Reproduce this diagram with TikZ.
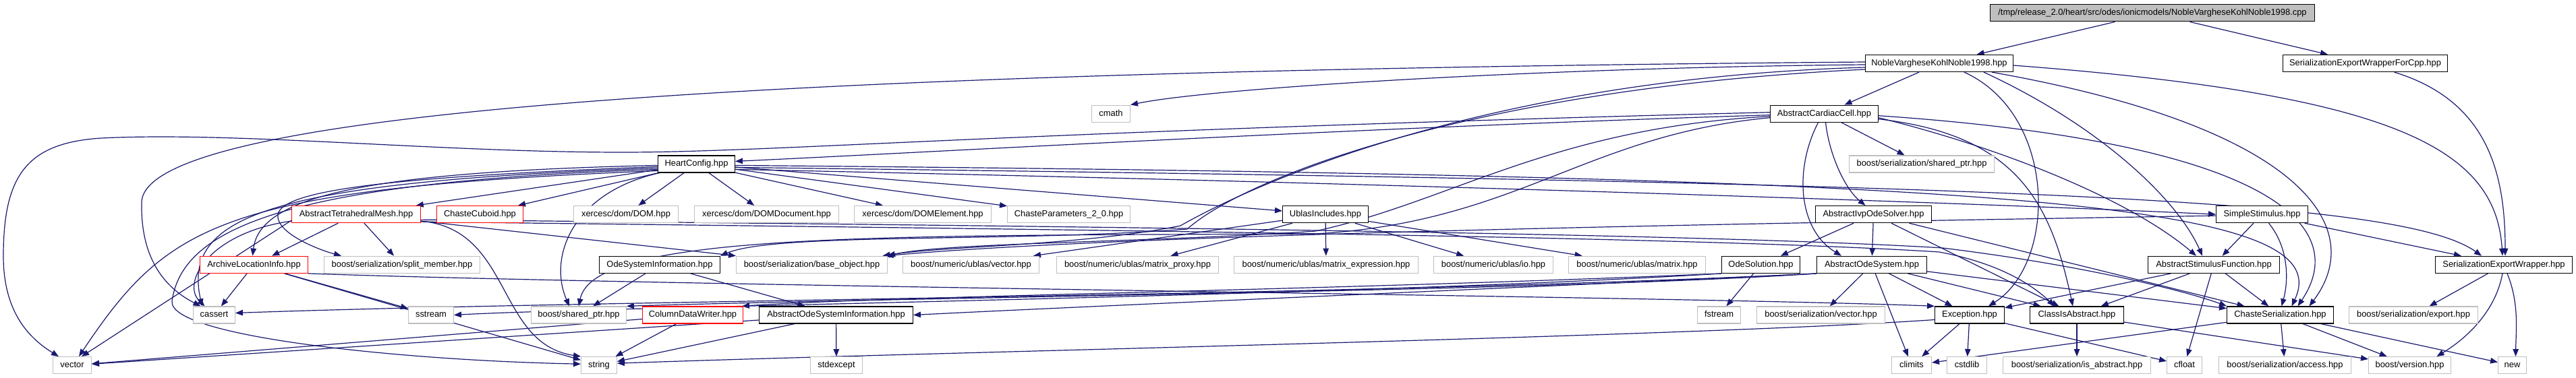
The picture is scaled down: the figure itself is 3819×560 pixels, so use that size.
\documentclass[tikz,border=0pt]{standalone}
\usepackage{fontspec}
\setmainfont{Liberation Sans}
\usetikzlibrary{arrows.meta,backgrounds}
\definecolor{lnkc}{HTML}{191970}
\definecolor{greyc}{HTML}{BFBFBF}
\definecolor{redc}{HTML}{FF0000}
\newcommand{\dgfont}{\fontsize{12.9pt}{15pt}\selectfont}
\tikzset{
 nbase/.style={rectangle, fill=white, line width=1.3pt, minimum height=25pt, inner xsep=1pt, inner ysep=0pt, text height=9.4pt, text depth=2.7pt, font=\dgfont, text=black},
 bbox/.style={nbase, draw=black},
 gbox/.style={nbase, draw=greyc},
 rbox/.style={nbase, draw=redc},
 rootbox/.style={nbase, draw=black, fill=greyc},
 lnk/.style={draw=lnkc, line width=1.2pt, -{Triangle[length=11pt,width=8.5pt]}},
}
\begin{document}
\begin{tikzpicture}[x=1pt,y=-1pt]
\useasboundingbox (0,0) rectangle (3819,560);
\begin{scope}[on background layer]
\fill[white] (0,0) rectangle (3819,560);
\end{scope}
% rank 0
\node[rootbox, minimum width=480.7pt] (root) at (3191,19.3) {/tmp/release\_2.0/heart/src/odes/ionicmodels/NobleVargheseKohlNoble1998.cpp};
% rank 1
\node[bbox, minimum width=218.7pt] (nvkn) at (2875,94) {NobleVargheseKohlNoble1998.hpp};
\node[bbox, minimum width=243.7pt] (sewcpp) at (3506.5,94) {SerializationExportWrapperForCpp.hpp};
% rank 2
\node[gbox, minimum width=56.7pt] (cmath) at (1647,168.7) {cmath};
\node[bbox, minimum width=159.7pt] (acc) at (2704.5,168.7) {AbstractCardiacCell.hpp};
% rank 3
\node[bbox, minimum width=113.7pt] (heart) at (1032.5,243.4) {HeartConfig.hpp};
\node[gbox, minimum width=214.7pt] (sershared) at (2849,243.4) {boost/serialization/shared\_ptr.hpp};
% rank 4
\node[rbox, minimum width=190.7pt] (atm) at (528,318.1) {AbstractTetrahedralMesh.hpp};
\node[rbox, minimum width=127.7pt] (cuboid) at (711.5,318.1) {ChasteCuboid.hpp};
\node[gbox, minimum width=154.7pt] (dom) at (928,318.1) {xercesc/dom/DOM.hpp};
\node[gbox, minimum width=213.7pt] (domdoc) at (1136.5,318.1) {xercesc/dom/DOMDocument.hpp};
\node[gbox, minimum width=202.7pt] (domel) at (1368,318.1) {xercesc/dom/DOMElement.hpp};
\node[gbox, minimum width=181.7pt] (chparam) at (1584.5,318.1) {ChasteParameters\_2\_0.hpp};
\node[bbox, minimum width=126.7pt] (ublas) at (1965,318.1) {UblasIncludes.hpp};
\node[bbox, minimum width=171.7pt] (aios) at (2777.5,318.1) {AbstractIvpOdeSolver.hpp};
\node[bbox, minimum width=135.7pt] (simple) at (3353.5,318.1) {SimpleStimulus.hpp};
% rank 5
\node[rbox, minimum width=159.7pt] (archive) at (376.5,392.8) {ArchiveLocationInfo.hpp};
\node[gbox, minimum width=230.7pt] (splitm) at (596,392.8) {boost/serialization/split\_member.hpp};
\node[bbox, minimum width=178.7pt] (osi) at (978,392.8) {OdeSystemInformation.hpp};
\node[gbox, minimum width=223.7pt] (baseobj) at (1203.5,392.8) {boost/serialization/base\_object.hpp};
\node[gbox, minimum width=201.7pt] (uvector) at (1439.5,392.8) {boost/numeric/ublas/vector.hpp};
\node[gbox, minimum width=239.7pt] (mproxy) at (1686.5,392.8) {boost/numeric/ublas/matrix\_proxy.hpp};
\node[gbox, minimum width=272.7pt] (mexpr) at (1966,392.8) {boost/numeric/ublas/matrix\_expression.hpp};
\node[gbox, minimum width=176.7pt] (io) at (2214,392.8) {boost/numeric/ublas/io.hpp};
\node[gbox, minimum width=202.7pt] (matrix) at (2427,392.8) {boost/numeric/ublas/matrix.hpp};
\node[bbox, minimum width=115.7pt] (odesol) at (2610.5,392.8) {OdeSolution.hpp};
\node[bbox, minimum width=162.7pt] (aos) at (2775,392.8) {AbstractOdeSystem.hpp};
\node[bbox, minimum width=194.7pt] (asf) at (3282,392.8) {AbstractStimulusFunction.hpp};
\node[bbox, minimum width=202.7pt] (sew) at (3712,392.8) {SerializationExportWrapper.hpp};
% rank 6
\node[gbox, minimum width=61.7pt] (cassert) at (317.5,467.5) {cassert};
\node[gbox, minimum width=66.7pt] (sstream) at (639,467.5) {sstream};
\node[gbox, minimum width=140.7pt] (bshared) at (858,467.5) {boost/shared\_ptr.hpp};
\node[rbox, minimum width=148.7pt] (cdw) at (1027,467.5) {ColumnDataWriter.hpp};
\node[bbox, minimum width=227.7pt] (aosi) at (1239.5,467.5) {AbstractOdeSystemInformation.hpp};
\node[gbox, minimum width=63.7pt] (fstream) at (2548.5,467.5) {fstream};
\node[gbox, minimum width=189.7pt] (servector) at (2699.5,467.5) {boost/serialization/vector.hpp};
\node[bbox, minimum width=102.7pt] (exception) at (2920,467.5) {Exception.hpp};
\node[bbox, minimum width=138.7pt] (classabs) at (3079,467.5) {ClassIsAbstract.hpp};
\node[bbox, minimum width=157.7pt] (chser) at (3380.5,467.5) {ChasteSerialization.hpp};
\node[gbox, minimum width=190.7pt] (export) at (3578,467.5) {boost/serialization/export.hpp};
% rank 7
\node[gbox, minimum width=56.7pt] (vector) at (107,542.2) {vector};
\node[gbox, minimum width=52.7pt] (string) at (888,542.2) {string};
\node[gbox, minimum width=76.7pt] (stdexcept) at (1240,542.2) {stdexcept};
\node[gbox, minimum width=58.7pt] (climits) at (2834,542.2) {climits};
\node[gbox, minimum width=58.7pt] (cstdlib) at (2916,542.2) {cstdlib};
\node[gbox, minimum width=218.7pt] (isabs) at (3079,542.2) {boost/serialization/is\_abstract.hpp};
\node[gbox, minimum width=51.7pt] (cfloat) at (3238.5,542.2) {cfloat};
\node[gbox, minimum width=195.7pt] (access) at (3387.5,542.2) {boost/serialization/access.hpp};
\node[gbox, minimum width=121.7pt] (version) at (3572.5,542.2) {boost/version.hpp};
\node[gbox, minimum width=41.7pt] (new) at (3724.5,542.2) {new};

\begin{scope}[on background layer]
% root
\draw[lnk] (root) -- (nvkn);
\draw[lnk] (root) -- (sewcpp);
\draw[lnk] (sewcpp) .. controls (3690,150) and (3714,260) .. ([xshift=2pt]sew.north);
% NobleVargheseKohlNoble1998.hpp
\draw[lnk] ([yshift=-3pt]nvkn.east) .. controls (3550,140) and (3700,220) .. ([xshift=-2pt]sew.north);
\draw[lnk] (nvkn) -- (acc);
\draw[lnk] ([xshift=37pt]nvkn.south) .. controls (3050,170) and (3050,390) .. ([xshift=28pt]exception.north);
\draw[lnk] ([xshift=66pt]nvkn.south) .. controls (3120,190) and (3230,300) .. ([xshift=-17pt]asf.north);
\draw[lnk] ([xshift=78pt]nvkn.south) .. controls (3420,190) and (3510,340) .. ([xshift=43pt]chser.north);
\draw[lnk] ([yshift=-2pt]nvkn.west) .. controls (2300,100) and (1800,130) .. (cmath.north east);
\draw[lnk] ([yshift=2pt]nvkn.west) .. controls (1200,105) and (215,160) .. (210,300) .. controls (208,390) and (250,430) .. ([xshift=-20pt]cassert.north);
\draw[lnk] ([yshift=-6pt]nvkn.west) .. controls (2250,115) and (1900,250) .. (1750,335) .. controls (1600,365) and (1400,365) .. ([xshift=105pt]baseobj.north);
\draw[lnk] ([yshift=-9pt]nvkn.west) .. controls (2200,130) and (1850,260) .. (1760,340) .. controls (1500,360) and (1150,345) .. (osi.north east);
% AbstractCardiacCell.hpp
\draw[lnk] ([yshift=2pt]acc.west) .. controls (1500,195) and (1150,226) .. (923,226) .. controls (650,226) and (350,195) .. (150,205) .. controls (40,212) and (5,260) .. (5,380) .. controls (5,460) and (40,500) .. ([xshift=-20pt]vector.north);
\draw[lnk] ([yshift=-2pt]acc.west) .. controls (2000,190) and (1400,225) .. ([yshift=4pt]heart.east);
\draw[lnk] (acc) -- (sershared);
\draw[lnk] ([xshift=2pt]acc.south) .. controls (2712,230) and (2735,280) .. ([xshift=-12pt]aios.north);
\draw[lnk] ([xshift=-9pt]acc.south) .. controls (2660,250) and (2665,340) .. ([xshift=-45pt]aos.north);
\draw[lnk] ([yshift=-8pt]acc.east) .. controls (2990,200) and (3040,300) .. ([xshift=-6pt]classabs.north);
\draw[lnk] ([yshift=-6pt]acc.east) .. controls (2950,215) and (3150,290) .. ([xshift=-26pt]asf.north);
\draw[lnk] ([yshift=-3pt]acc.east) .. controls (3350,210) and (3490,330) .. ([xshift=26pt]chser.north);
\draw[lnk] ([yshift=-4pt]acc.west) .. controls (2300,190) and (2150,300) .. (1950,343) .. controls (1700,360) and (1400,360) .. (baseobj.north east);
\draw[lnk] ([yshift=-6pt]acc.west) .. controls (2350,200) and (2250,330) .. (1950,347) .. controls (1300,350) and (880,345) .. (bshared.north);
% HeartConfig.hpp
\draw[lnk] (heart) -- (atm);
\draw[lnk] (heart) -- (cuboid);
\draw[lnk] (heart) -- (dom);
\draw[lnk] (heart) -- (domdoc);
\draw[lnk] (heart) -- (domel);
\draw[lnk] (heart) -- (chparam);
\draw[lnk] (heart) -- (ublas);
\draw[lnk] ([yshift=-2pt]heart.west) .. controls (550,255) and (385,290) .. ([xshift=-2pt]archive.north);
\draw[lnk] ([yshift=-4pt]heart.west) .. controls (600,262) and (420,280) .. (412,318) .. controls (408,345) and (470,370) .. ([xshift=-90pt]splitm.north);
\draw[lnk] ([yshift=-6pt]heart.west) .. controls (400,270) and (270,320) .. ([xshift=-18pt]cassert.north);
\draw[lnk] ([yshift=-10pt]heart.west) .. controls (330,280) and (250,330) .. ([xshift=10pt]vector.north);
\draw[lnk] ([yshift=-8pt]heart.west) .. controls (420,270) and (270,340) .. (255,447) .. controls (250,500) and (600,535) .. ([yshift=2pt]string.west);
\draw[lnk] ([xshift=3pt]heart.south west) .. controls (850,285) and (812,380) .. ([xshift=-14pt]bshared.north);
\draw[lnk] ([yshift=-2pt]heart.east) .. controls (3000,262) and (3470,300) .. ([xshift=17pt]chser.north);
\draw[lnk] ([yshift=-5pt]heart.east) .. controls (3000,272) and (3560,295) .. ([xshift=-33pt]sew.north);
\draw[lnk] ([yshift=-8pt]heart.east) .. controls (2000,270) and (2900,300) .. (simple.west);
% AbstractTetrahedralMesh.hpp
\draw[lnk] (atm) -- (archive);
\draw[lnk] (atm) -- (splitm);
\draw[lnk] ([yshift=-10pt]atm.west) .. controls (310,345) and (268,420) .. ([xshift=-14pt]cassert.north);
\draw[lnk] ([yshift=-9pt]atm.west) -- ([xshift=14pt]vector.north);
\draw[lnk] ([yshift=-10pt]atm.east) .. controls (760,340) and (735,510) .. (string.north west);
\draw[lnk] ([yshift=-10pt]atm.east) -- (baseobj.north west);
\draw[lnk] ([yshift=-8pt]atm.east) .. controls (1500,335) and (2500,345) .. (2880,368) .. controls (3100,395) and (3250,435) .. (chser.north west);
\draw[lnk] ([yshift=-11pt]atm.east) .. controls (1500,340) and (2500,350) .. (2875,374) .. controls (2960,390) and (3010,420) .. ([xshift=-33pt]classabs.north);
% UblasIncludes.hpp
\draw[lnk] (ublas) -- (uvector);
\draw[lnk] (ublas) -- (mproxy);
\draw[lnk] (ublas) -- (mexpr);
\draw[lnk] (ublas) -- (io);
\draw[lnk] (ublas) -- (matrix);
% ArchiveLocationInfo.hpp
\draw[lnk] (archive) -- (cassert);
\draw[lnk] (archive) -- (sstream);
\draw[lnk] (archive) -- (string);
\draw[lnk] (archive.south east) .. controls (1000,425) and (2500,440) .. (exception.north west);
% OdeSystemInformation / AbstractOdeSystemInformation / ColumnDataWriter
\draw[lnk] (osi) -- (bshared);
\draw[lnk] (osi) -- (aosi);
\draw[lnk] (aosi) -- (vector);
\draw[lnk] (aosi) -- (string);
\draw[lnk] (aosi) -- (stdexcept);
\draw[lnk] (cdw) -- (vector);
\draw[lnk] (cdw) -- (string);
% OdeSolution.hpp
\draw[lnk] (odesol) -- (fstream);
\draw[lnk] (odesol.south west) .. controls (2000,430) and (1300,440) .. ([xshift=-2pt]cdw.north east);
\draw[lnk] (odesol.south west) .. controls (2000,440) and (900,455) .. (sstream.east);
% AbstractOdeSystem.hpp
\draw[lnk] (aos) -- (servector);
\draw[lnk] (aos) -- (climits);
\draw[lnk] (aos) -- (exception);
\draw[lnk] (aos) -- (classabs);
\draw[lnk] (aos) -- (chser);
\draw[lnk] (aos.south west) .. controls (2300,425) and (1600,455) .. (aosi.east);
\draw[lnk] (aos.south west) .. controls (2300,432) and (1400,440) .. (bshared.north east);
\draw[lnk] (aos.south west) .. controls (2000,440) and (900,445) .. ([yshift=3pt]cassert.east);
% AbstractIvpOdeSolver.hpp
\draw[lnk] (aios) -- (odesol);
\draw[lnk] (aios) -- (aos);
\draw[lnk] (aios) -- (classabs);
\draw[lnk] (aios) -- (chser);
% Exception.hpp
\draw[lnk] ([yshift=-7pt]exception.west) .. controls (2500,500) and (1400,522) .. ([yshift=3pt]string.east);
\draw[lnk] (exception) -- (climits);
\draw[lnk] (exception) -- (cstdlib);
\draw[lnk] (exception) -- (cfloat);
% ClassIsAbstract.hpp
\draw[lnk] (classabs) -- (isabs);
\draw[lnk] (classabs) -- (version);
% ChasteSerialization.hpp
\draw[lnk] (chser) -- (access);
\draw[lnk] (chser) -- (version);
\draw[lnk] (chser) -- (new);
\draw[lnk] (chser) -- (climits);
% AbstractStimulusFunction.hpp
\draw[lnk] (asf) -- (exception);
\draw[lnk] (asf) -- (classabs);
\draw[lnk] (asf) -- (chser);
\draw[lnk] (asf) -- (cfloat);
% SimpleStimulus.hpp
\draw[lnk] (simple) -- (asf);
\draw[lnk] ([xshift=10pt]simple.south) .. controls (3395,370) and (3392,420) .. ([xshift=2pt]chser.north);
\draw[lnk] (simple) -- (sew);
\draw[lnk] ([yshift=-2pt]simple.west) .. controls (2700,330) and (1700,345) .. ([xshift=110pt]baseobj.north);
% SerializationExportWrapper.hpp
\draw[lnk] (sew) -- (export);
\draw[lnk] ([xshift=-2pt]sew.south) .. controls (3700,460) and (3660,500) .. ([xshift=40pt]version.north);
\draw[lnk] ([xshift=5pt]sew.south) .. controls (3735,450) and (3730,490) .. ([xshift=5pt]new.north);
\end{scope}
\end{tikzpicture}
\end{document}
